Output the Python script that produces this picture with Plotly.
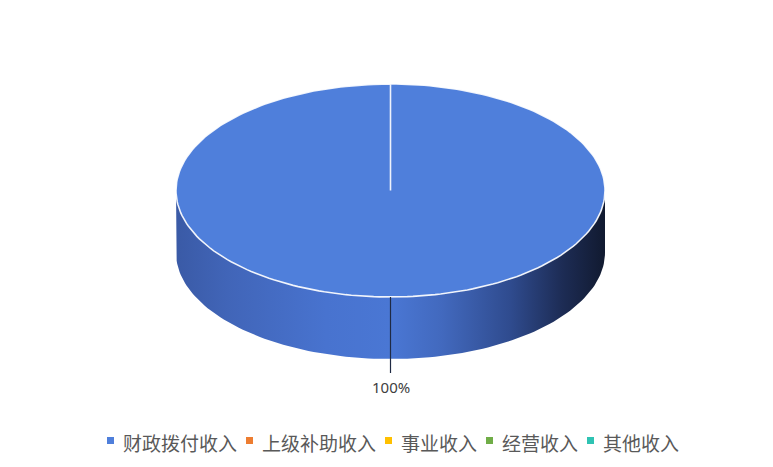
import numpy as np
import plotly.graph_objects as go

# Revenue composition
categories = ["财政拨付收入", "上级补助收入", "事业收入", "经营收入", "其他收入"]
values = [100, 0, 0, 0, 0]
colors = ["#4F7FDB", "#ED7D31", "#FFC000", "#70AD47", "#2FC3B3"]

W, H = 773, 467
CX, CY = 390.5, 190.5      # centre of the pie's top face
RX, RY = 214.5, 106.5      # radii of the tilted top face
DEPTH = 62                 # thickness of the pie

# legend geometry
LEG_Y = 440.5              # vertical centre of the legend row
LEG_FS = 19                # legend font size (CJK glyph advance = font size)
LEG_TXT_OFF = 15           # marker left edge -> text start
LEG_ITEM_GAP = 10          # text end -> next marker
LEG_CENTER = 392.5

total = float(sum(values))


def arc(t0, t1, n=240):
    t = np.linspace(t0, t1, max(int(n * abs(t1 - t0) / (2 * np.pi)) + 2, 3))
    return CX + RX * np.sin(t), CY - RY * np.cos(t)


fig = go.Figure()

start = 0.0
slices = []
for name, v, c in zip(categories, values, colors):
    span = 2 * np.pi * v / total
    slices.append((name, v, c, start, start + span))
    start += span

# side walls (only the front half is visible), shaded left-to-right
side_scale = [
    [0.0, "#3A5AA6"], [0.12, "#4165B8"], [0.35, "#4873CF"], [0.5, "#4A77D4"],
    [0.62, "#4269BE"], [0.78, "#2F4B8E"], [0.9, "#1D2C55"], [1.0, "#111A30"],
]
for name, v, c, a0, a1 in slices:
    lo, hi = max(a0, np.pi / 2), min(a1, 3 * np.pi / 2)
    if v <= 0 or hi <= lo:
        continue
    xt, yt = arc(lo, hi)
    xs = np.concatenate([xt, xt[::-1], xt[:1]])
    ys = np.concatenate([yt, yt[::-1] + DEPTH, yt[:1]])
    fig.add_trace(go.Scatter(
        x=xs, y=ys, mode="lines", fill="toself",
        line=dict(width=0, color="rgba(0,0,0,0)"),
        fillgradient=dict(type="horizontal", colorscale=side_scale),
        hoverinfo="skip", showlegend=False,
    ))

# top faces
for name, v, c, a0, a1 in slices:
    if v <= 0:
        continue
    xa, ya = arc(a0, a1)
    xs = np.concatenate([[CX], xa, [CX]])
    ys = np.concatenate([[CY], ya, [CY]])
    fig.add_trace(go.Scatter(
        x=xs, y=ys, mode="lines", fill="toself", fillcolor=c,
        line=dict(color="rgba(255,255,255,0.9)", width=1.6),
        hoverinfo="skip", showlegend=False,
    ))

# percentage labels with leader lines
for name, v, c, a0, a1 in slices:
    if v <= 0:
        continue
    mid = (a0 + a1) / 2
    ex, ey = CX + RX * np.sin(mid), CY - RY * np.cos(mid)
    fig.add_trace(go.Scatter(
        x=[ex, ex], y=[ey, ey + DEPTH + 14], mode="lines",
        line=dict(color="#1F2A44", width=1.2),
        hoverinfo="skip", showlegend=False,
    ))
    fig.add_annotation(
        x=ex, y=ey + DEPTH + 28, text=f"{v / total:.0%}", showarrow=False,
        font=dict(size=15, color="#404040", family="Noto Sans, Arial"),
        xanchor="center", yanchor="middle",
    )

# legend row: square swatch followed by its label
widths = [LEG_TXT_OFF + LEG_FS * len(n) for n in categories]
row_w = sum(widths) + LEG_ITEM_GAP * (len(categories) - 1)
x0 = LEG_CENTER - row_w / 2
for name, c, w in zip(categories, colors, widths):
    fig.add_trace(go.Scatter(
        x=[x0 + 3.5], y=[LEG_Y], mode="markers", name=name,
        marker=dict(symbol="square", size=7, color=c, line=dict(width=0)),
        hoverinfo="skip", showlegend=False,
    ))
    fig.add_annotation(
        x=x0 + LEG_TXT_OFF - 1, y=LEG_Y + 1.5, text=name, showarrow=False,
        font=dict(size=LEG_FS, color="#595959", family="Noto Sans CJK SC"),
        xanchor="left", yanchor="middle",
    )
    x0 += w + LEG_ITEM_GAP

fig.update_layout(
    width=W, height=H,
    margin=dict(l=0, r=0, t=0, b=0),
    paper_bgcolor="white", plot_bgcolor="white",
    xaxis=dict(range=[0, W], visible=False, fixedrange=True),
    yaxis=dict(range=[H, 0], visible=False, fixedrange=True),
    showlegend=False,
    font=dict(family="Noto Sans CJK SC"),
)

fig.write_html("out.html")
